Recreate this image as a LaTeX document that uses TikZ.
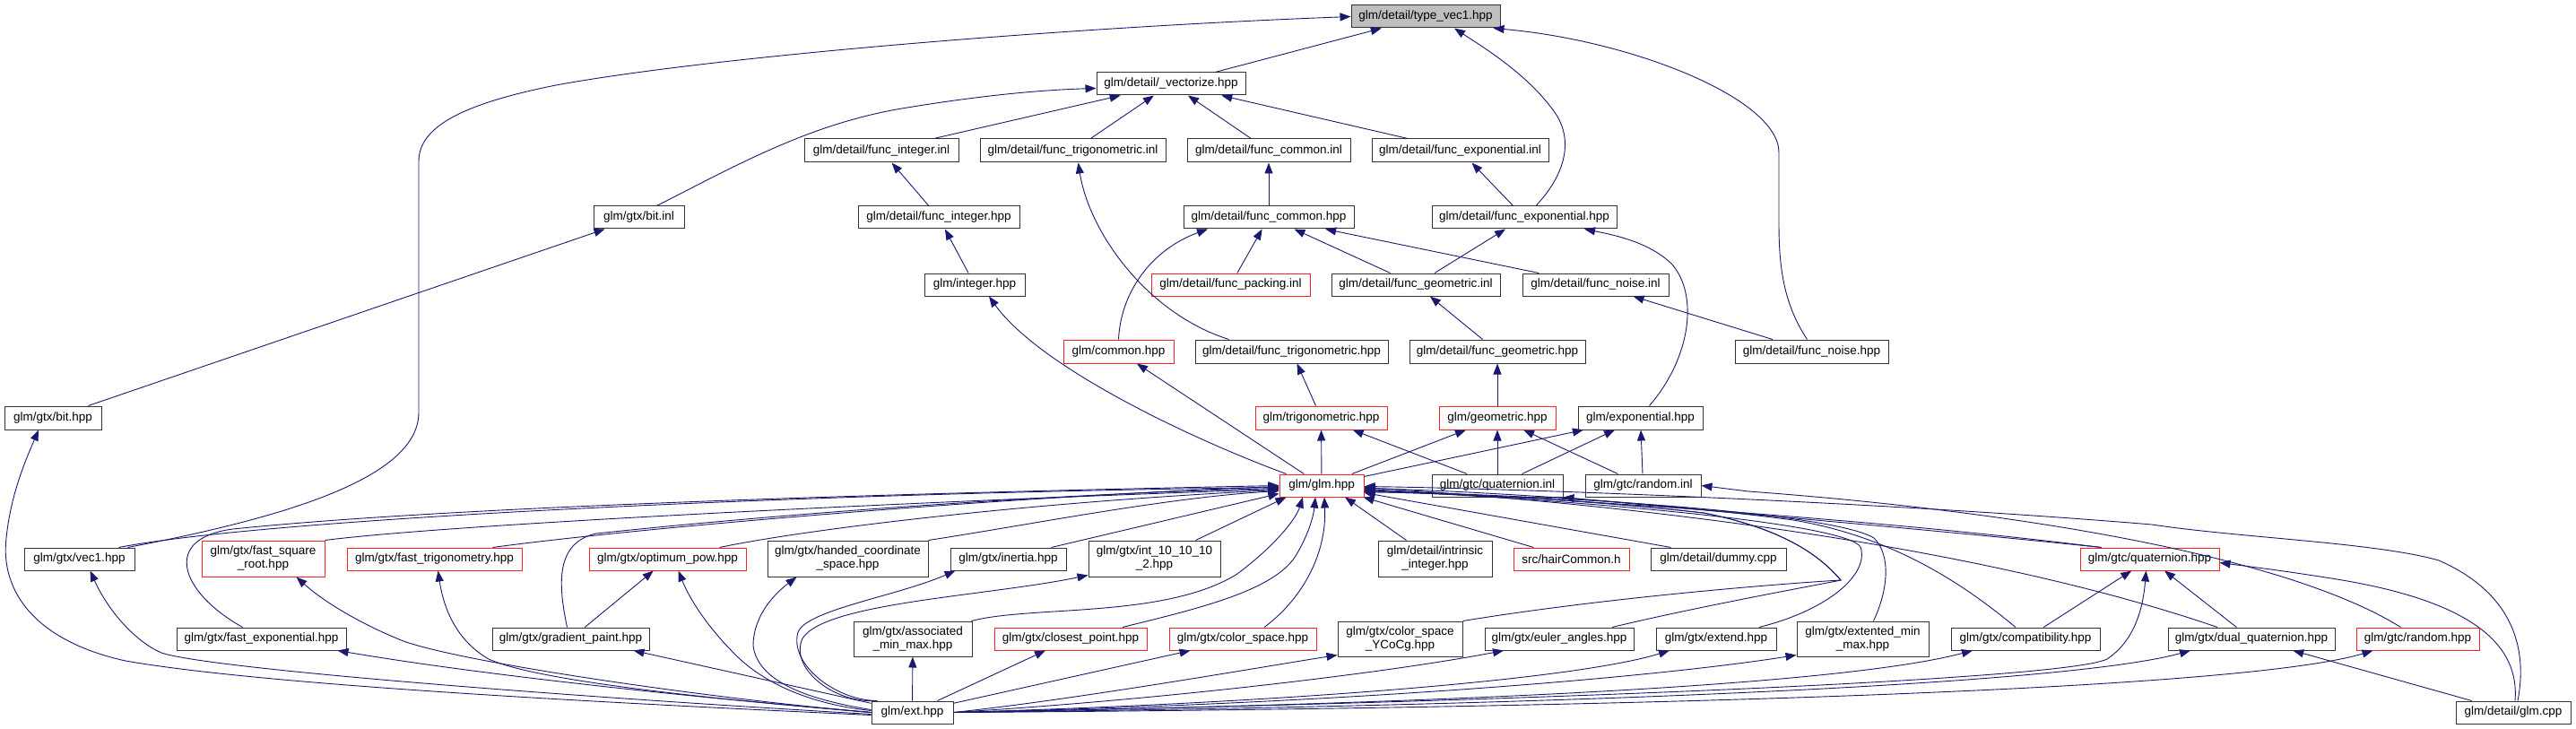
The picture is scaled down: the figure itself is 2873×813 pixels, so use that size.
\documentclass[tikz,border=0pt]{standalone}
\usepackage{fontspec}
\setmainfont{Liberation Sans}
\usetikzlibrary{arrows.meta}
\definecolor{edgeblue}{HTML}{191970}
\definecolor{boxred}{HTML}{FF2020}
\definecolor{boxgray}{HTML}{BFBFBF}
\tikzset{
  nd/.style={draw=black!80, line width=1pt, inner sep=0pt, align=center, font=\fontsize{13.5}{15}\selectfont},
  rd/.style={nd, draw=boxred},
  gd/.style={nd, fill=boxgray},
  ed/.style={draw=edgeblue, line width=0.9pt, -{Triangle[length=12pt,width=9pt]}},
}
\newcommand\Nd[7][nd]{\node[#1, minimum width={#5-#3}, minimum height={#6-#4}] (#2) at ({(#3+#5)/2},{(#4+#6)/2}) {#7};}
\begin{document}
\begin{tikzpicture}[x=1pt,y=-1pt]
\useasboundingbox (0,0) rectangle (2873,813);
% nodes
\Nd[gd]{vtop}{1507}{6}{1673}{31}{glm/detail/type\_vec1.hpp}
\Nd{vect}{1223}{81}{1389}{106}{glm/detail/\_vectorize.hpp}
\Nd{fiinl}{897}{155}{1069}{181}{glm/detail/func\_integer.inl}
\Nd{ftinl}{1093}{155}{1300}{181}{glm/detail/func\_trigonometric.inl}
\Nd{fcinl}{1324}{155}{1506}{181}{glm/detail/func\_common.inl}
\Nd{feinl}{1530}{155}{1727}{181}{glm/detail/func\_exponential.inl}
\Nd{bitinl}{662}{230}{763}{255}{glm/gtx/bit.inl}
\Nd{fihpp}{957}{230}{1137}{255}{glm/detail/func\_integer.hpp}
\Nd{fchpp}{1320}{230}{1510}{255}{glm/detail/func\_common.hpp}
\Nd{fehpp}{1597}{230}{1803}{255}{glm/detail/func\_exponential.hpp}
\Nd{inthpp}{1031}{305}{1143}{330}{glm/integer.hpp}
\Nd[rd]{fpack}{1284}{305}{1461}{330}{glm/detail/func\_packing.inl}
\Nd{fginl}{1485}{305}{1673}{330}{glm/detail/func\_geometric.inl}
\Nd{fninl}{1698}{305}{1861}{330}{glm/detail/func\_noise.inl}
\Nd[rd]{common}{1186}{379}{1309}{405}{glm/common.hpp}
\Nd{fthpp}{1333}{379}{1548}{405}{glm/detail/func\_trigonometric.hpp}
\Nd{fghpp}{1572}{379}{1768}{405}{glm/detail/func\_geometric.hpp}
\Nd{fnhpp}{1935}{379}{2106}{405}{glm/detail/func\_noise.hpp}
\Nd{bithpp}{5}{453}{113}{479}{glm/gtx/bit.hpp}
\Nd[rd]{trig}{1400}{453}{1547}{479}{glm/trigonometric.hpp}
\Nd[rd]{geom}{1605}{453}{1735}{479}{glm/geometric.hpp}
\Nd{expo}{1760}{453}{1899}{479}{glm/exponential.hpp}
\Nd[rd]{glm}{1427}{529}{1521}{554}{glm/glm.hpp}
\Nd{qinl}{1597}{529}{1743}{554}{glm/gtc/quaternion.inl}
\Nd{rinl}{1768}{529}{1897}{554}{glm/gtc/random.inl}
\Nd{vec1}{27}{611}{150}{636}{glm/gtx/vec1.hpp}
\Nd[rd]{fsqrt}{225}{603}{362}{643}{glm/gtx/fast\_square\\\_root.hpp}
\Nd[rd]{ftrig}{387}{611}{582}{636}{glm/gtx/fast\_trigonometry.hpp}
\Nd[rd]{opow}{657}{611}{832}{636}{glm/gtx/optimum\_pow.hpp}
\Nd{handed}{856}{603}{1035}{643}{glm/gtx/handed\_coordinate\\\_space.hpp}
\Nd{inertia}{1060}{611}{1189}{636}{glm/gtx/inertia.hpp}
\Nd{ione}{1214}{603}{1361}{643}{glm/gtx/int\_10\_10\_10\\\_2.hpp}
\Nd{intrin}{1537}{603}{1664}{643}{glm/detail/intrinsic\\\_integer.hpp}
\Nd[rd]{hair}{1688}{611}{1817}{636}{src/hairCommon.h}
\Nd{dummy}{1841}{611}{1992}{636}{glm/detail/dummy.cpp}
\Nd[rd]{qhpp}{2320}{611}{2475}{636}{glm/gtc/quaternion.hpp}
\Nd{fexp}{197}{700}{386}{725}{glm/gtx/fast\_exponential.hpp}
\Nd{grad}{549}{700}{724}{725}{glm/gtx/gradient\_paint.hpp}
\Nd{assoc}{952}{693}{1084}{732}{glm/gtx/associated\\\_min\_max.hpp}
\Nd[rd]{closest}{1109}{700}{1279}{725}{glm/gtx/closest\_point.hpp}
\Nd[rd]{cspace}{1304}{700}{1468}{725}{glm/gtx/color\_space.hpp}
\Nd{ycocg}{1492}{693}{1631}{732}{glm/gtx/color\_space\\\_YCoCg.hpp}
\Nd{euler}{1656}{700}{1822}{725}{glm/gtx/euler\_angles.hpp}
\Nd{extend}{1847}{700}{1981}{725}{glm/gtx/extend.hpp}
\Nd{extmm}{2004}{693}{2151}{732}{glm/gtx/extented\_min\\\_max.hpp}
\Nd{compat}{2176}{700}{2342}{725}{glm/gtx/compatibility.hpp}
\Nd{dualq}{2418}{700}{2604}{725}{glm/gtx/dual\_quaternion.hpp}
\Nd[rd]{rhpp}{2628}{700}{2765}{725}{glm/gtc/random.hpp}
\Nd{ext}{972}{782}{1063}{807}{glm/ext.hpp}
\Nd{glmcpp}{2739}{782}{2867}{807}{glm/detail/glm.cpp}
% edges to type_vec1
\draw[ed] (vect) -- (vtop);
\draw[ed] ([xshift=-8pt]vec1.north east) .. controls (330,575) and (467,530) .. (467,460) -- (467,180) .. controls (467,140) and (520,115) .. (620,95) .. controls (800,62) and (1200,30) .. (vtop.west);
\draw[ed] ([xshift=13pt]fehpp.north) .. controls (1750,190) and (1755,150) .. (1730,120) .. controls (1700,80) and (1650,50) .. ([xshift=32pt]vtop.south);
\draw[ed] ([xshift=-5pt]fnhpp.north) .. controls (1990,340) and (1984,300) .. (1984,250) -- (1984,170) .. controls (1984,110) and (1820,45) .. ([xshift=-8pt]vtop.south east);
% to vectorize
\draw[ed] ([xshift=20pt]bitinl.north) .. controls (820,185) and (900,140) .. (1000,122) .. controls (1100,105) and (1170,100) .. ([yshift=-5pt]vect.west);
\draw[ed] (fiinl) -- (vect);
\draw[ed] (ftinl) -- (vect);
\draw[ed] (fcinl) -- (vect);
\draw[ed] (feinl) -- (vect);
% row 3/4
\draw[ed] (fihpp) -- (fiinl);
\draw[ed] ([xshift=-70pt]fthpp.north) .. controls (1280,350) and (1215,260) .. ([xshift=6pt]ftinl.south);
\draw[ed] (fchpp) -- (fcinl);
\draw[ed] (fehpp) -- (feinl);
\draw[ed] (inthpp) -- (fihpp);
\draw[ed] (common.north) .. controls (1250,325) and (1285,278) .. ([xshift=-68pt]fchpp.south);
\draw[ed] (fpack) -- (fchpp);
\draw[ed] (fginl) -- (fchpp);
\draw[ed] (fninl) -- (fchpp);
\draw[ed] (fginl) -- (fehpp);
\draw[ed] ([xshift=10pt]expo.north) .. controls (1885,400) and (1895,330) .. (1865,295) .. controls (1840,270) and (1800,262) .. ([xshift=67pt]fehpp.south);
\draw[ed] (fghpp) -- (fginl);
\draw[ed] (fnhpp) -- (fninl);
\draw[ed] (bithpp) -- (bitinl);
\draw[ed] ([xshift=8pt]glm.north west) .. controls (1330,490) and (1160,410) .. ([xshift=16pt]inthpp.south);
\draw[ed] (glm) -- (common);
\draw[ed] (trig) -- (fthpp);
\draw[ed] (geom) -- (fghpp);
\draw[ed] (glm) -- (trig);
\draw[ed] (qinl) -- (trig);
\draw[ed] (glm) -- (geom);
\draw[ed] (qinl) -- (geom);
\draw[ed] (rinl) -- (geom);
\draw[ed] (glm) -- (expo);
\draw[ed] (qinl) -- (expo);
\draw[ed] (rinl) -- (expo);
% into glm.hpp
\draw[ed] ([xshift=44pt]vec1.north) .. controls (300,578) and (900,550) .. ([yshift=-2pt]glm.west);
\draw[ed] (fsqrt.north east) .. controls (500,585) and (1000,560) .. ([yshift=-4pt]glm.west);
\draw[ed] ([xshift=-21pt]fexp.north) .. controls (200,660) and (180,600) .. (260,590) .. controls (500,565) and (1000,550) .. (glm.west);
\draw[ed] ([xshift=65pt]ftrig.north) .. controls (700,590) and (1100,555) .. ([yshift=-1pt]glm.west);
\draw[ed] ([xshift=-4pt]grad.north) .. controls (622,650) and (620,605) .. (665,595) .. controls (900,570) and (1200,550) .. ([yshift=-3pt]glm.west);
\draw[ed] ([xshift=58pt]opow.north) .. controls (900,590) and (1150,560) .. ([yshift=-5pt]glm.west);
\draw[ed] (handed.north east) .. controls (1150,585) and (1300,555) .. ([yshift=-6pt]glm.west);
\draw[ed] ([xshift=48pt]inertia.north) -- ([yshift=-9pt]glm.west);
\draw[ed] ([xshift=46pt]ione.north) -- ([xshift=8pt]glm.south west);
\draw[ed] ([xshift=-1pt]assoc.north east) .. controls (1150,675) and (1300,690) .. (1380,640) .. controls (1420,610) and (1445,580) .. ([xshift=-21pt]glm.south);
\draw[ed] ([xshift=58pt]closest.north) .. controls (1330,680) and (1420,660) .. (1445,620) .. controls (1460,595) and (1465,575) .. ([xshift=-7pt]glm.south);
\draw[ed] ([xshift=24pt]cspace.north) .. controls (1450,670) and (1480,620) .. ([xshift=3pt]glm.south);
\draw[ed] ([xshift=-32pt]intrin.north) -- ([xshift=26pt]glm.south);
\draw[ed] ([xshift=-42pt]hair.north) -- ([xshift=-1pt]glm.south east);
\draw[ed] ([xshift=-53pt]dummy.north) -- ([yshift=-8pt]glm.east);
\draw[ed] ([xshift=-54pt]qhpp.north) .. controls (2100,580) and (1800,560) .. ([yshift=-4pt]glm.east);
\draw[ed] ([xshift=-38pt]dualq.north) .. controls (2300,640) and (2000,575) .. ([yshift=-2pt]glm.east);
\draw[ed] ([xshift=48pt]extend.north) .. controls (2040,680) and (2085,640) .. (2075,610) .. controls (2060,585) and (1800,560) .. ([yshift=-5pt]glm.east);
\draw[ed] ([xshift=12pt]extmm.north) .. controls (2105,660) and (2110,620) .. (2090,600) .. controls (2050,575) and (1800,555) .. ([yshift=-6pt]glm.east);
\draw[ed] ([xshift=-11pt]compat.north) .. controls (2200,660) and (2120,600) .. (2000,580) .. controls (1850,560) and (1650,548) .. ([yshift=-3pt]glm.east);
\draw[ed] ([xshift=59pt]euler.north) .. controls (1900,675) and (2040,650) .. (2053,647) .. controls (2030,620) and (1990,590) .. (1900,572) .. controls (1750,555) and (1600,550) .. ([yshift=-7pt]glm.east);
\draw[ed] (ycocg.north east) .. controls (1800,665) and (2000,650) .. (2053,647) .. controls (2030,620) and (1990,590) .. (1900,572) .. controls (1750,555) and (1600,550) .. ([yshift=-7pt]glm.east);
\draw[ed] ([xshift=5pt]glmcpp.north) .. controls (2820,720) and (2800,660) .. (2720,625) .. controls (2650,605) and (2500,600) .. (2400,585) .. controls (2100,560) and (1700,545) .. ([yshift=-1pt]glm.east);
% quaternion / random
\draw[ed] ([xshift=-54pt]qhpp.north) .. controls (2150,590) and (1850,565) .. (qinl.south east);
\draw[ed] ([xshift=-19pt]rhpp.north) .. controls (2550,620) and (2250,570) .. (1950,548) -- (rinl.east);
\draw[ed] (compat) -- (qhpp);
\draw[ed] (dualq) -- (qhpp);
\draw[ed] (grad) -- (opow);
\draw[ed] ([xshift=2pt]glmcpp.north) .. controls (2810,720) and (2760,670) .. (2600,645) .. controls (2550,637) and (2510,632) .. ([yshift=-4pt]qhpp.east);
\draw[ed] (glmcpp) -- (dualq);
% from ext.hpp
\draw[ed] ([yshift=-3pt]ext.west) .. controls (700,785) and (300,765) .. (140,737) .. controls (40,715) and (0,660) .. (7,600) .. controls (12,550) and (30,510) .. ([xshift=-16pt]bithpp.south);
\draw[ed] ([yshift=-2pt]ext.west) .. controls (600,775) and (230,745) .. (180,728) .. controls (150,715) and (120,680) .. ([xshift=12pt]vec1.south);
\draw[ed] (ext.west) .. controls (800,780) and (550,755) .. ([xshift=85pt]fexp.south);
\draw[ed] (ext.west) .. controls (800,780) and (520,740) .. (450,715) .. controls (400,695) and (360,670) .. ([xshift=37pt]fsqrt.south);
\draw[ed] (ext.west) .. controls (800,780) and (600,760) .. (545,735) .. controls (510,715) and (495,680) .. ([xshift=4pt]ftrig.south);
\draw[ed] (ext) -- ([xshift=70pt]grad.south);
\draw[ed] ([yshift=2pt]ext.west) .. controls (900,785) and (850,760) .. (820,730) .. controls (790,700) and (770,670) .. ([xshift=12pt]opow.south);
\draw[ed] ([yshift=3pt]ext.west) .. controls (900,780) and (845,760) .. (840,720) .. controls (840,690) and (860,665) .. ([xshift=-57pt]handed.south);
\draw[ed] ([xshift=5pt]ext.north west) .. controls (930,780) and (880,740) .. (890,705) .. controls (900,680) and (1000,665) .. ([xshift=-59pt]inertia.south);
\draw[ed] ([xshift=7pt]ext.north west) .. controls (930,785) and (880,745) .. (895,712) .. controls (920,672) and (1100,665) .. ([yshift=2pt]ione.south west);
\draw[ed] (ext) -- (assoc);
\draw[ed] (ext) -- (closest);
\draw[ed] (ext) -- (cspace);
\draw[ed] (ext.east) .. controls (1200,780) and (1400,745) .. ([yshift=2pt]ycocg.south west);
\draw[ed] (ext.east) .. controls (1300,780) and (1550,750) .. ([xshift=-62pt]euler.south);
\draw[ed] (ext.east) .. controls (1400,785) and (1750,760) .. ([xshift=-52pt]extend.south);
\draw[ed] (ext.east) .. controls (1500,785) and (1850,755) .. ([yshift=2pt]extmm.south west);
\draw[ed] (ext.east) .. controls (1600,785) and (2050,765) .. ([xshift=-59pt]compat.south);
\draw[ed] (ext.east) .. controls (1600,785) and (2300,760) .. (2350,735) .. controls (2380,715) and (2390,680) .. ([xshift=-4pt]qhpp.south);
\draw[ed] (ext.east) .. controls (1700,788) and (2300,765) .. ([xshift=-68pt]dualq.south);
\draw[ed] (ext.east) .. controls (1800,790) and (2500,770) .. ([xshift=-50pt]rhpp.south);
\end{tikzpicture}
\end{document}
